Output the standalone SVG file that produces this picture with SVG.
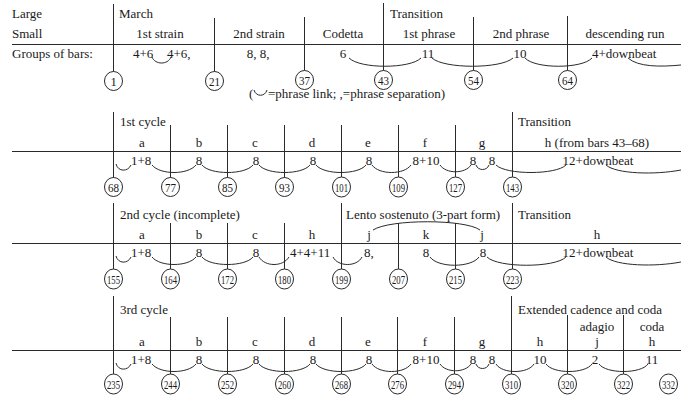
<svg xmlns="http://www.w3.org/2000/svg" width="681" height="403" viewBox="0 0 681 403">
<style>
text{font-family:"Liberation Serif","DejaVu Serif",serif;font-size:13px;fill:#1a1a1a}
.m{text-anchor:middle}
.ln{stroke:#2a2a2a;stroke-width:1;fill:none}
.arc{stroke:#2a2a2a;stroke-width:1;fill:none}
.c ellipse{fill:#fff;stroke:#2a2a2a;stroke-width:1}
.c text{font-size:12.5px;text-anchor:middle}
</style>
<rect width="681" height="403" fill="#fff"/>

<!-- horizontal staff lines -->
<g id="rules">
<line class="ln" x1="12" y1="44.5" x2="681" y2="44.5"/>
<line class="ln" x1="12" y1="151.5" x2="681" y2="151.5"/>
<line class="ln" x1="12" y1="243.5" x2="681" y2="243.5"/>
<line class="ln" x1="12" y1="350.5" x2="681" y2="350.5"/>
</g>

<!-- Row 1 -->
<g id="row1-labels">
<text x="12" y="18">Large</text>
<text x="12" y="38">Small</text>
<text x="12" y="58">Groups of bars:</text>
<text x="119" y="18">March</text>
<text x="390" y="18">Transition</text>
<text class="m" x="160" y="38">1st strain</text>
<text class="m" x="259" y="38">2nd strain</text>
<text class="m" x="343" y="38">Codetta</text>
<text class="m" x="429" y="38">1st phrase</text>
<text class="m" x="521" y="38">2nd phrase</text>
<text class="m" x="625" y="38">descending run</text>
<text x="133" y="58">4+6</text>
<text x="167" y="58">4+6,</text>
<text class="m" x="258" y="58">8, 8,</text>
<text class="m" x="343" y="58">6</text>
<text class="m" x="428" y="58">11</text>
<text class="m" x="520" y="58">10</text>
<text x="592" y="58">4+downbeat</text>
</g>
<g id="legend">
<text x="249" y="98">(</text>
<path class="arc" d="M254,90 C256,97 265,97 267,90"/>
<text x="268" y="98">=phrase link; ,=phrase separation)</text>
</g>

<g id="bar-1" class="c"><line class="ln" x1="113.5" y1="4" x2="113.5" y2="72"/><ellipse cx="113.5" cy="81" rx="9" ry="9.5"/><text x="113.5" y="85.5">1</text></g>
<g id="bar-21" class="c"><line class="ln" x1="214.5" y1="18" x2="214.5" y2="72"/><ellipse cx="214.5" cy="81" rx="9" ry="9.5"/><text x="214.5" y="85.5" textLength="11" lengthAdjust="spacingAndGlyphs">21</text></g>
<g id="bar-37" class="c"><line class="ln" x1="304.5" y1="17" x2="304.5" y2="71"/><ellipse cx="304.5" cy="80" rx="9" ry="9.5"/><text x="304.5" y="84.5" textLength="11" lengthAdjust="spacingAndGlyphs">37</text></g>
<g id="bar-43" class="c"><line class="ln" x1="383.5" y1="3" x2="383.5" y2="71"/><ellipse cx="383.5" cy="80" rx="9" ry="9.5"/><text x="383.5" y="84.5" textLength="11" lengthAdjust="spacingAndGlyphs">43</text></g>
<g id="bar-54" class="c"><line class="ln" x1="473.5" y1="17" x2="473.5" y2="71"/><ellipse cx="473.5" cy="80" rx="9" ry="9.5"/><text x="473.5" y="84.5" textLength="11" lengthAdjust="spacingAndGlyphs">54</text></g>
<g id="bar-64" class="c"><line class="ln" x1="567.5" y1="16" x2="567.5" y2="71"/><ellipse cx="567.5" cy="80" rx="9" ry="9.5"/><text x="567.5" y="84.5" textLength="11" lengthAdjust="spacingAndGlyphs">64</text></g>

<!-- Row 2 -->
<g id="row2-labels">
<text x="120" y="126">1st cycle</text>
<text x="518" y="126">Transition</text>
<text class="m" x="142" y="147">a</text>
<text class="m" x="199" y="147">b</text>
<text class="m" x="255" y="147">c</text>
<text class="m" x="312" y="147">d</text>
<text class="m" x="368" y="147">e</text>
<text class="m" x="425" y="147">f</text>
<text class="m" x="482" y="147">g</text>
<text class="m" x="597" y="147">h (from bars 43–68)</text>
<text x="131" y="165">1+8</text>
<text class="m" x="199" y="165">8</text>
<text class="m" x="256" y="165">8</text>
<text class="m" x="313" y="165">8</text>
<text class="m" x="369" y="165">8</text>
<text class="m" x="426" y="165">8+10</text>
<text class="m" x="473" y="165">8</text>
<text class="m" x="492" y="165">8</text>
<text class="m" x="598" y="165">12+downbeat</text>
</g>
<g id="bar-68" class="c"><line class="ln" x1="113.5" y1="112" x2="113.5" y2="178"/><ellipse cx="113.5" cy="187" rx="9" ry="9.5"/><text x="113.5" y="191.5" textLength="11" lengthAdjust="spacingAndGlyphs">68</text></g>
<g id="bar-77" class="c"><line class="ln" x1="170.5" y1="125" x2="170.5" y2="178"/><ellipse cx="170.5" cy="187" rx="9" ry="9.5"/><text x="170.5" y="191.5" textLength="11" lengthAdjust="spacingAndGlyphs">77</text></g>
<g id="bar-85" class="c"><line class="ln" x1="227.5" y1="125" x2="227.5" y2="178"/><ellipse cx="227.5" cy="187" rx="9" ry="9.5"/><text x="227.5" y="191.5" textLength="11" lengthAdjust="spacingAndGlyphs">85</text></g>
<g id="bar-93" class="c"><line class="ln" x1="284.5" y1="125" x2="284.5" y2="178"/><ellipse cx="284.5" cy="187" rx="9" ry="9.5"/><text x="284.5" y="191.5" textLength="11" lengthAdjust="spacingAndGlyphs">93</text></g>
<g id="bar-101" class="c"><line class="ln" x1="341.5" y1="125" x2="341.5" y2="177"/><ellipse cx="341.5" cy="187" rx="9" ry="10"/><text x="341.5" y="191.5" textLength="13" lengthAdjust="spacingAndGlyphs">101</text></g>
<g id="bar-109" class="c"><line class="ln" x1="398.5" y1="125" x2="398.5" y2="177"/><ellipse cx="398.5" cy="187" rx="9" ry="10"/><text x="398.5" y="191.5" textLength="13" lengthAdjust="spacingAndGlyphs">109</text></g>
<g id="bar-127" class="c"><line class="ln" x1="455.5" y1="125" x2="455.5" y2="177"/><ellipse cx="455.5" cy="187" rx="9" ry="10"/><text x="455.5" y="191.5" textLength="13" lengthAdjust="spacingAndGlyphs">127</text></g>
<g id="bar-143" class="c"><line class="ln" x1="512.5" y1="112" x2="512.5" y2="177"/><ellipse cx="512.5" cy="187" rx="9" ry="10"/><text x="512.5" y="191.5" textLength="13" lengthAdjust="spacingAndGlyphs">143</text></g>

<!-- Row 3 -->
<g id="row3-labels">
<text x="120" y="219">2nd cycle (incomplete)</text>
<text x="346" y="219">Lento sostenuto (3-part form)</text>
<text x="518" y="219">Transition</text>
<text class="m" x="142" y="239">a</text>
<text class="m" x="199" y="239">b</text>
<text class="m" x="255" y="239">c</text>
<text class="m" x="312" y="239">h</text>
<text class="m" x="369" y="239">j</text>
<text class="m" x="426" y="239">k</text>
<text class="m" x="482" y="239">j</text>
<text class="m" x="597" y="239">h</text>
<text x="131" y="257">1+8</text>
<text class="m" x="199" y="257">8</text>
<text class="m" x="256" y="257">8</text>
<text x="290" y="257">4+4+11</text>
<text x="364" y="257">8,</text>
<text class="m" x="426" y="257">8</text>
<text class="m" x="483" y="257">8</text>
<text class="m" x="598" y="257">12+downbeat</text>
</g>
<g id="bar-155" class="c"><line class="ln" x1="113.5" y1="203" x2="113.5" y2="269"/><ellipse cx="113.5" cy="279" rx="9" ry="10"/><text x="113.5" y="283.5" textLength="13" lengthAdjust="spacingAndGlyphs">155</text></g>
<g id="bar-164" class="c"><line class="ln" x1="170.5" y1="223" x2="170.5" y2="269"/><ellipse cx="170.5" cy="279" rx="9" ry="10"/><text x="170.5" y="283.5" textLength="13" lengthAdjust="spacingAndGlyphs">164</text></g>
<g id="bar-172" class="c"><line class="ln" x1="227.5" y1="223" x2="227.5" y2="269"/><ellipse cx="227.5" cy="279" rx="9" ry="10"/><text x="227.5" y="283.5" textLength="13" lengthAdjust="spacingAndGlyphs">172</text></g>
<g id="bar-180" class="c"><line class="ln" x1="284.5" y1="223" x2="284.5" y2="269"/><ellipse cx="284.5" cy="279" rx="9" ry="10"/><text x="284.5" y="283.5" textLength="13" lengthAdjust="spacingAndGlyphs">180</text></g>
<g id="bar-199" class="c"><line class="ln" x1="341.5" y1="203" x2="341.5" y2="269"/><ellipse cx="341.5" cy="279" rx="9" ry="10"/><text x="341.5" y="283.5" textLength="13" lengthAdjust="spacingAndGlyphs">199</text></g>
<g id="bar-207" class="c"><line class="ln" x1="398.5" y1="223" x2="398.5" y2="269"/><ellipse cx="398.5" cy="279" rx="9" ry="10"/><text x="398.5" y="283.5" textLength="13" lengthAdjust="spacingAndGlyphs">207</text></g>
<g id="bar-215" class="c"><line class="ln" x1="455.5" y1="223" x2="455.5" y2="269"/><ellipse cx="455.5" cy="279" rx="9" ry="10"/><text x="455.5" y="283.5" textLength="13" lengthAdjust="spacingAndGlyphs">215</text></g>
<g id="bar-223" class="c"><line class="ln" x1="512.5" y1="203" x2="512.5" y2="269"/><ellipse cx="512.5" cy="279" rx="9" ry="10"/><text x="512.5" y="283.5" textLength="13" lengthAdjust="spacingAndGlyphs">223</text></g>

<!-- Row 4 -->
<g id="row4-labels">
<text x="120" y="314">3rd cycle</text>
<text x="518" y="314">Extended cadence and coda</text>
<text class="m" x="597" y="331">adagio</text>
<text class="m" x="652" y="331">coda</text>
<text class="m" x="142" y="346">a</text>
<text class="m" x="199" y="346">b</text>
<text class="m" x="255" y="346">c</text>
<text class="m" x="312" y="346">d</text>
<text class="m" x="368" y="346">e</text>
<text class="m" x="425" y="346">f</text>
<text class="m" x="482" y="346">g</text>
<text class="m" x="540" y="346">h</text>
<text class="m" x="597" y="346">j</text>
<text class="m" x="652" y="346">h</text>
<text x="131" y="364">1+8</text>
<text class="m" x="199" y="364">8</text>
<text class="m" x="256" y="364">8</text>
<text class="m" x="313" y="364">8</text>
<text class="m" x="369" y="364">8</text>
<text class="m" x="426" y="364">8+10</text>
<text class="m" x="473" y="364">8</text>
<text class="m" x="492" y="364">8</text>
<text class="m" x="540" y="364">10</text>
<text class="m" x="595" y="364">2</text>
<text class="m" x="652" y="364">11</text>
</g>
<g id="bar-235" class="c"><line class="ln" x1="113.5" y1="296" x2="113.5" y2="374"/><ellipse cx="113.5" cy="384" rx="9" ry="10"/><text x="113.5" y="388.5" textLength="13" lengthAdjust="spacingAndGlyphs">235</text></g>
<g id="bar-244" class="c"><line class="ln" x1="170.5" y1="317" x2="170.5" y2="374"/><ellipse cx="170.5" cy="384" rx="9" ry="10"/><text x="170.5" y="388.5" textLength="13" lengthAdjust="spacingAndGlyphs">244</text></g>
<g id="bar-252" class="c"><line class="ln" x1="227.5" y1="317" x2="227.5" y2="374"/><ellipse cx="227.5" cy="384" rx="9" ry="10"/><text x="227.5" y="388.5" textLength="13" lengthAdjust="spacingAndGlyphs">252</text></g>
<g id="bar-260" class="c"><line class="ln" x1="284.5" y1="317" x2="284.5" y2="374"/><ellipse cx="284.5" cy="384" rx="9" ry="10"/><text x="284.5" y="388.5" textLength="13" lengthAdjust="spacingAndGlyphs">260</text></g>
<g id="bar-268" class="c"><line class="ln" x1="341.5" y1="317" x2="341.5" y2="374"/><ellipse cx="341.5" cy="384" rx="9" ry="10"/><text x="341.5" y="388.5" textLength="13" lengthAdjust="spacingAndGlyphs">268</text></g>
<g id="bar-276" class="c"><line class="ln" x1="397.5" y1="317" x2="397.5" y2="374"/><ellipse cx="397.5" cy="384" rx="9" ry="10"/><text x="397.5" y="388.5" textLength="13" lengthAdjust="spacingAndGlyphs">276</text></g>
<g id="bar-294" class="c"><line class="ln" x1="454.5" y1="317" x2="454.5" y2="374"/><ellipse cx="454.5" cy="384" rx="9" ry="10"/><text x="454.5" y="388.5" textLength="13" lengthAdjust="spacingAndGlyphs">294</text></g>
<g id="bar-310" class="c"><line class="ln" x1="511.5" y1="296" x2="511.5" y2="374"/><ellipse cx="511.5" cy="384" rx="9" ry="10"/><text x="511.5" y="388.5" textLength="13" lengthAdjust="spacingAndGlyphs">310</text></g>
<g id="bar-320" class="c"><line class="ln" x1="567.5" y1="315" x2="567.5" y2="374"/><ellipse cx="567.5" cy="384" rx="9" ry="10"/><text x="567.5" y="388.5" textLength="13" lengthAdjust="spacingAndGlyphs">320</text></g>
<g id="bar-322" class="c"><line class="ln" x1="623.5" y1="315" x2="623.5" y2="374"/><ellipse cx="623.5" cy="384" rx="9" ry="10"/><text x="623.5" y="388.5" textLength="13" lengthAdjust="spacingAndGlyphs">322</text></g>
<g id="bar-332" class="c"><ellipse cx="668.5" cy="384" rx="9" ry="10"/><text x="668.5" y="388.5" textLength="13" lengthAdjust="spacingAndGlyphs">332</text></g>

<!-- phrase links -->
<g id="connectors">
<path class="arc" d="M152,57 C155,65 168,65 171,57"/>
<path class="arc" d="M349,58 C360,69 410,69 421,58"/>
<path class="arc" d="M432,58 C444,69 501,69 513,58"/>
<path class="arc" d="M525,58 C535,69 582,69 592,58"/>
<path class="arc" d="M628,58 C638,67 660,67 681,65"/>

<path class="arc" d="M116,164 C118,172 128,172 131,165"/>
<path class="arc" d="M152,165 C160,175 188,175 196,165"/>
<path class="arc" d="M202,165 C210,175 245,175 253,165"/>
<path class="arc" d="M259,165 C267,175 302,175 310,165"/>
<path class="arc" d="M316,165 C324,175 358,175 366,165"/>
<path class="arc" d="M372,165 C379,175 404,175 411,165"/>
<path class="arc" d="M440,165 C446,174 465,174 471,165"/>
<path class="arc" d="M476,165 C478,171 487,171 489,165"/>
<path class="arc" d="M496,165 C506,175 556,175 566,165"/>
<path class="arc" d="M606,165 C616,174 655,175 681,170"/>

<path class="arc" d="M116,256 C118,264 128,264 131,257"/>
<path class="arc" d="M152,257 C160,267 188,267 196,257"/>
<path class="arc" d="M202,257 C210,267 245,267 253,257"/>
<path class="arc" d="M259,257 C265,267 283,267 289,257"/>
<path class="arc" d="M333,257 C338,267 357,267 362,257"/>
<path class="arc" d="M430,257 C438,268 471,268 479,257"/>
<path class="arc" d="M487,257 C498,268 555,268 566,257"/>
<path class="arc" d="M606,257 C616,266 655,267 681,262"/>
<path class="arc" d="M373,230 C390,219 465,219 480,230"/>

<path class="arc" d="M116,363 C118,371 128,371 131,364"/>
<path class="arc" d="M152,364 C160,374 188,374 196,364"/>
<path class="arc" d="M202,364 C210,374 245,374 253,364"/>
<path class="arc" d="M259,364 C267,374 302,374 310,364"/>
<path class="arc" d="M316,364 C324,374 358,374 366,364"/>
<path class="arc" d="M372,364 C379,374 404,374 411,364"/>
<path class="arc" d="M440,364 C446,373 465,373 471,364"/>
<path class="arc" d="M476,364 C478,370 487,370 489,364"/>
<path class="arc" d="M496,364 C502,374 528,374 534,364"/>
<path class="arc" d="M546,364 C553,374 585,374 592,364"/>
<path class="arc" d="M599,364 C606,374 641,374 648,364"/>
</g>
</svg>
